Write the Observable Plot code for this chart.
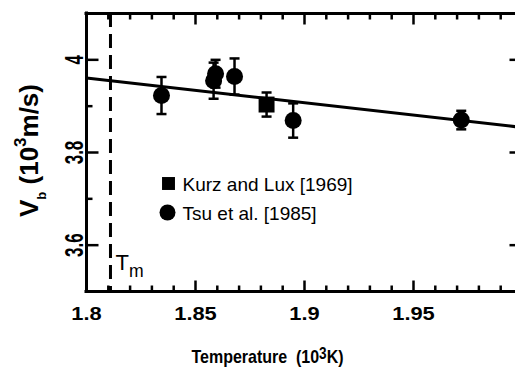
<!DOCTYPE html>
<html><head><meta charset="utf-8">
<script src="https://cdn.jsdelivr.net/npm/d3@7"></script>
<script src="https://cdn.jsdelivr.net/npm/@observablehq/plot@0.6"></script>
<style>
html,body{margin:0;padding:0;background:#fff;overflow:hidden;}
</style></head><body><div id="chart"></div>
<script>
// ---- data ----
const tsuT   = [1.8344, 1.8583, 1.8592, 1.8679, 1.8948, 1.9719];
const tsuV   = [3.923, 3.955, 3.970, 3.964, 3.869, 3.870];
const tsuErr = [0.040, 0.039, 0.030, 0.039, 0.037, 0.020];
const kurzT   = [1.8826];
const kurzV   = [3.9035];
const kurzErr = [0.026];
const fitT = [1.8, 2.0];
const fitV = [3.961, 3.854];
const meltT = [1.811];
const xDomain = [1.8, 2.0];
const yDomain = [3.5, 4.1];
const xMajor = [1.8, 1.85, 1.9, 1.95, 2.0];
const xMinor = [1.81,1.82,1.83,1.84,1.86,1.87,1.88,1.89,1.91,1.92,1.93,1.94,1.96,1.97,1.98,1.99];
const xTickLabels = ["1.8", "1.85", "1.9", "1.95"];
const yMajor = [3.6, 3.8, 4.0];
const yMinor = [3.7, 3.9];
const yTickLabels = ["3.6", "3.8", "4"];
const legendLabels = ["Kurz and Lux [1969]", "Tsu et al. [1985]"];
const legendSymbols = ["square", "circle"];
const xLabel = "Temperature  (10³K)";
const yLabel = "Vb (10³m/s)";
const meltLabel = "Tm";

// ---- build tables ----
const tsu = tsuT.map((T, i) => ({T, V: tsuV[i], e: tsuErr[i]}));
const kurz = kurzT.map((T, i) => ({T, V: kurzV[i], e: kurzErr[i]}));
const allPts = [...tsu, ...kurz];
const fit = fitT.map((T, i) => ({T, V: fitV[i]}));
const xLab = xTickLabels.map((s, i) => ({v: xMajor[i], s}));
const yLab = yTickLabels.map((s, i) => ({v: yMajor[i], s}));

const seg = (dx, dy) => ({draw(ctx) { ctx.moveTo(0, 0); ctx.lineTo(dx, dy); }});
const cap = {draw(ctx) { ctx.moveTo(-5, 0); ctx.lineTo(5, 0); }};
const tk = {stroke: "black", fill: "none", strokeWidth: 2.5};
const font = "'Liberation Sans', Arial, sans-serif";
const bottomY = () => yDomain[0], topY = () => yDomain[1];
const leftX = () => xDomain[0], rightX = () => xDomain[1];

const plot = Plot.plot({
  width: 515, height: 368,
  marginLeft: 86, marginRight: -7, marginTop: 13, marginBottom: 77,
  x: {domain: xDomain, axis: null},
  y: {domain: yDomain, axis: null},
  style: {fontFamily: font, color: "black", background: "white"},
  marks: [
    // frame
    Plot.ruleX([xDomain[0]], {x: d => d, strokeWidth: 3, strokeLinecap: "square"}),
    Plot.ruleY(yDomain, {y: d => d, strokeWidth: 3, strokeLinecap: "square"}),
    // inward ticks (bottom, top, left, right)
    Plot.dot(xMinor, {x: d => d, y: bottomY, symbol: seg(0, -6), ...tk}),
    Plot.dot(xMajor, {x: d => d, y: bottomY, symbol: seg(0, -11), ...tk}),
    Plot.dot(xMinor, {x: d => d, y: topY, symbol: seg(0, 6), ...tk}),
    Plot.dot(xMajor, {x: d => d, y: topY, symbol: seg(0, 11), ...tk}),
    Plot.dot(yMinor, {y: d => d, x: leftX, symbol: seg(6, 0), ...tk}),
    Plot.dot(yMajor, {y: d => d, x: leftX, symbol: seg(12, 0), ...tk}),
    Plot.dot(yMinor, {y: d => d, x: rightX, symbol: seg(-6, 0), ...tk}),
    Plot.dot(yMajor, {y: d => d, x: rightX, symbol: seg(-13, 0), ...tk}),
    // tick labels
    Plot.text(xLab, {x: "v", text: "s", frameAnchor: "bottom", dy: 28, lineAnchor: "bottom",
      fontSize: 19, fontWeight: "bold"}),
    Plot.text(yLab, {y: "v", text: "s", frameAnchor: "left", dx: -4, rotate: -90, lineAnchor: "bottom",
      textAnchor: "middle", fontSize: 17, fontWeight: "bold"}),
    // axis labels
    Plot.text([xLabel], {text: d => d, frameAnchor: "bottom-left", dx: 181, dy: 71, lineAnchor: "bottom",
      textAnchor: "middle", fontSize: 16, fontWeight: "bold"}),
    Plot.text([yLabel], {text: d => d, frameAnchor: "left", dx: -49, dy: -2, rotate: -90, lineAnchor: "bottom",
      textAnchor: "middle", fontSize: 26, fontWeight: "bold"}),
    // melting temperature
    Plot.ruleX(meltT, {x: d => d, strokeWidth: 3, strokeDasharray: "14,7"}),
    Plot.text(meltT, {x: d => d, text: () => meltLabel, frameAnchor: "bottom", dx: 5, dy: -22,
      textAnchor: "start", lineAnchor: "bottom", fontSize: 22}),
    // fit line
    Plot.line(fit, {x: "T", y: "V", strokeWidth: 3}),
    // error bars
    Plot.ruleX(allPts, {x: "T", y1: d => d.V - d.e, y2: d => d.V + d.e, strokeWidth: 2.5}),
    Plot.dot(allPts, {x: "T", y: d => d.V + d.e, symbol: cap, ...tk}),
    Plot.dot(allPts, {x: "T", y: d => d.V - d.e, symbol: cap, ...tk}),
    // markers
    Plot.dot(tsu, {x: "T", y: "V", symbol: "circle", r: 8.5, fill: "black", stroke: "none"}),
    Plot.dot(kurz, {x: "T", y: "V", symbol: "square", r: 9, fill: "black", stroke: "none"}),
    // legend
    Plot.dot([legendSymbols[0]], {symbol: d => d, frameAnchor: "top-left", dx: 82, dy: 170, r: 7.3, fill: "black", stroke: "none"}),
    Plot.dot([legendSymbols[1]], {symbol: d => d, frameAnchor: "top-left", dx: 81, dy: 199, r: 8, fill: "black", stroke: "none"}),
    Plot.text([legendLabels[0]], {text: d => d, frameAnchor: "top-left", dx: 96, dy: 177, textAnchor: "start",
      lineAnchor: "bottom", fontSize: 19}),
    Plot.text([legendLabels[1]], {text: d => d, frameAnchor: "top-left", dx: 96, dy: 206, textAnchor: "start",
      lineAnchor: "bottom", fontSize: 19})
  ]
});

// ---- typographic touches: sub/superscripts and glyph proportions ----
const svg = d3.select(plot);
const textsOf = (list) => svg.selectAll("text").filter(function() { return list.includes(this.textContent); });
function rich(content, parts, fs) {
  textsOf([content]).each(function() {
    const t = d3.select(this);
    t.text(null);
    let cur = 0;
    for (const [s, k, sh] of parts) {
      const off = sh * fs;
      const ts = t.append("tspan").text(s).attr("dy", off - cur);
      if (k !== 1) ts.attr("font-size", fs * k);
      cur = off;
    }
  });
}
function addScale(list, sx, sy) {
  textsOf(list).each(function() {
    const tr = this.getAttribute("transform") || "";
    this.setAttribute("transform", tr + ` scale(${sx},${sy})`);
  });
}
addScale(xTickLabels, 1.15, 1);
addScale(yTickLabels, 1, 1.5);
addScale([xLabel], 1, 1.2);
rich(xLabel, [["Temperature  (10", 1, 0], ["3", 0.85, -0.2], ["K)", 1, 0]], 16);
rich(yLabel, [["V", 1, 0], ["b", 0.5, 0.31], [" (10", 1, 0], ["3", 0.65, -0.46], ["m/s)", 1, 0]], 26);
rich(meltLabel, [["T", 1, 0], ["m", 0.8, 0.32]], 22);

document.getElementById("chart").appendChild(plot);
</script></body></html>
